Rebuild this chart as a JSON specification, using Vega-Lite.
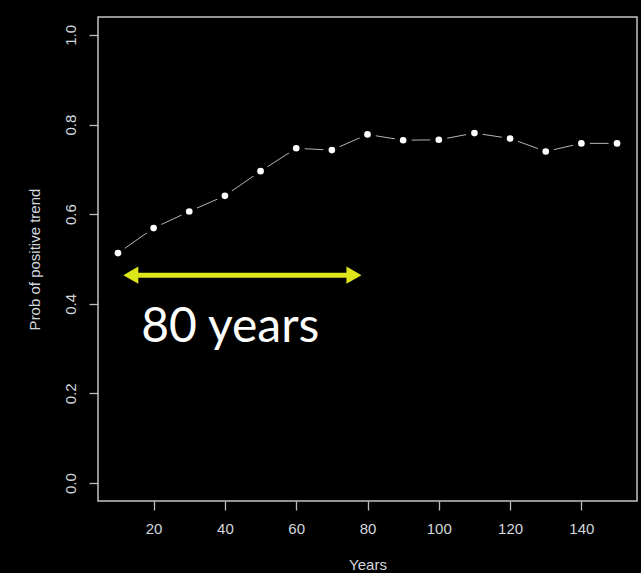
{
  "$schema": "https://vega.github.io/schema/vega-lite/v6.json",
  "width": 539,
  "height": 484,
  "autosize": {"type": "none"},
  "padding": {"left": 98, "top": 17, "right": 4, "bottom": 72},
  "background": "#000000",
  "config": {
    "view": {"stroke": "#c4c4c4", "strokeWidth": 1.5, "fill": "#000000"},
    "axis": {
      "domain": false,
      "grid": false,
      "tickColor": "#bdbdbd",
      "tickSize": 9,
      "tickWidth": 1.3,
      "labelColor": "#d2d8de",
      "labelFont": "Liberation Sans",
      "labelFontSize": 15,
      "titleColor": "#d2d8de",
      "titleFont": "Liberation Sans",
      "titleFontSize": 15,
      "titleFontWeight": "normal"
    }
  },
  "datasets": {
    "probs": [
      {"years": 10, "prob": 0.513},
      {"years": 20, "prob": 0.569},
      {"years": 30, "prob": 0.606},
      {"years": 40, "prob": 0.641},
      {"years": 50, "prob": 0.696},
      {"years": 60, "prob": 0.747},
      {"years": 70, "prob": 0.743},
      {"years": 80, "prob": 0.778},
      {"years": 90, "prob": 0.765},
      {"years": 100, "prob": 0.766},
      {"years": 110, "prob": 0.781},
      {"years": 120, "prob": 0.769},
      {"years": 130, "prob": 0.740},
      {"years": 140, "prob": 0.758},
      {"years": 150, "prob": 0.758}
    ],
    "arrow": [
      {"start": 13.6, "end": 76.2, "level": 0.464}
    ],
    "heads": [
      {"years": 13.6, "level": 0.464, "dir": "left"},
      {"years": 76.2, "level": 0.464, "dir": "right"}
    ],
    "note": [
      {"years": 16.5, "level": 0.314, "label": "80 years"}
    ]
  },
  "layer": [
    {
      "data": {"name": "probs"},
      "mark": {"type": "line", "color": "#b4b4b4", "strokeWidth": 1},
      "encoding": {
        "x": {
          "field": "years", "type": "quantitative",
          "scale": {"domain": [4.4, 155.6], "nice": false, "zero": false},
          "axis": {"values": [20, 40, 60, 80, 100, 120, 140], "title": "Years", "labelPadding": 11, "titlePadding": 21}
        },
        "y": {
          "field": "prob", "type": "quantitative",
          "scale": {"domain": [-0.04, 1.04], "nice": false, "zero": false},
          "axis": {"values": [0, 0.2, 0.4, 0.6, 0.8, 1.0], "format": ".1f", "title": "Prob of positive trend",
                   "labelAngle": -90, "labelAlign": "center", "labelBaseline": "middle", "labelPadding": 19, "titlePadding": 21}
        }
      }
    },
    {
      "data": {"name": "probs"},
      "mark": {"type": "point", "shape": "circle", "filled": true, "color": "#000000", "opacity": 1, "size": 290},
      "encoding": {
        "x": {"field": "years", "type": "quantitative"},
        "y": {"field": "prob", "type": "quantitative"}
      }
    },
    {
      "data": {"name": "probs"},
      "mark": {"type": "point", "shape": "circle", "filled": true, "color": "#ffffff", "opacity": 1, "size": 44},
      "encoding": {
        "x": {"field": "years", "type": "quantitative"},
        "y": {"field": "prob", "type": "quantitative"}
      }
    },
    {
      "data": {"name": "arrow"},
      "mark": {"type": "rule", "color": "#dde61b", "strokeWidth": 5},
      "encoding": {
        "x": {"field": "start", "type": "quantitative"},
        "x2": {"field": "end"},
        "y": {"field": "level", "type": "quantitative"}
      }
    },
    {
      "data": {"name": "heads"},
      "mark": {"type": "point", "filled": true, "color": "#dde61b", "opacity": 1, "size": 300},
      "encoding": {
        "x": {"field": "years", "type": "quantitative"},
        "y": {"field": "level", "type": "quantitative"},
        "shape": {"field": "dir", "type": "nominal", "scale": {"domain": ["left", "right"], "range": ["triangle-left", "triangle-right"]}, "legend": null}
      }
    },
    {
      "data": {"name": "note"},
      "mark": {"type": "text", "font": "Lato", "fontSize": 48, "color": "#ffffff", "align": "left", "baseline": "alphabetic"},
      "encoding": {
        "x": {"field": "years", "type": "quantitative"},
        "y": {"field": "level", "type": "quantitative"},
        "text": {"field": "label"}
      }
    }
  ]
}
